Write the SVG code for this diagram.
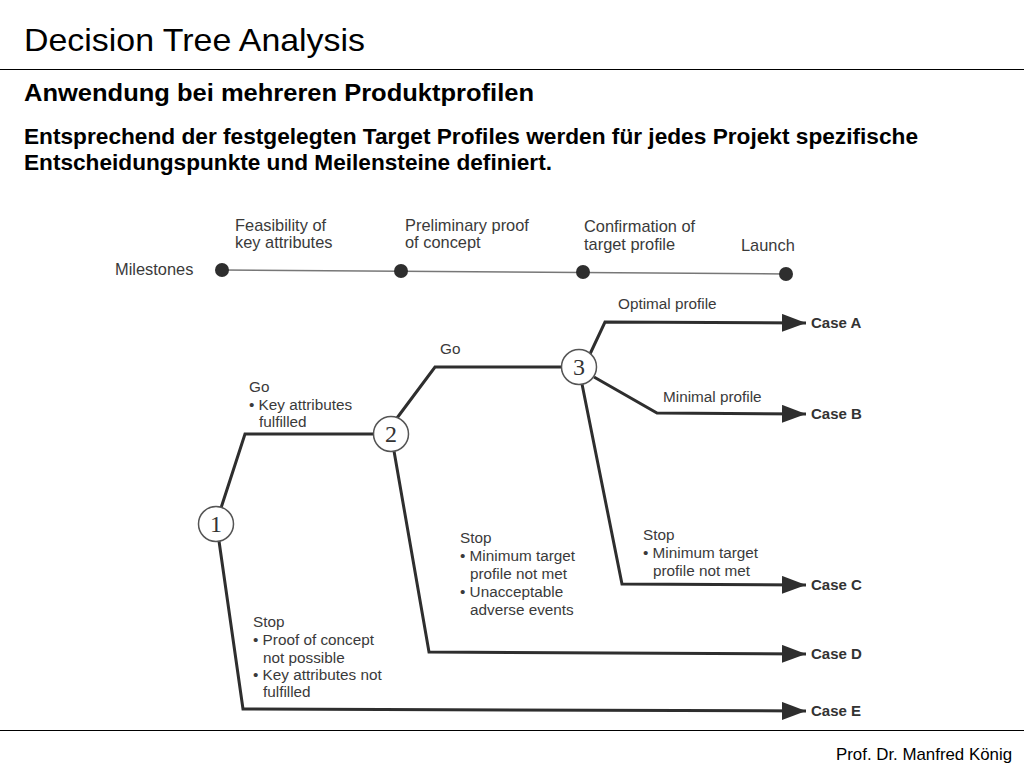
<svg xmlns="http://www.w3.org/2000/svg" width="1024" height="768" viewBox="0 0 1024 768">
<style>
.h{font-family:"Liberation Sans",Arial,sans-serif;fill:#000}
.t{font-family:"Liberation Sans",Arial,sans-serif;font-size:15.3px;fill:#3a3a3a}
.m{font-family:"Liberation Sans",Arial,sans-serif;font-size:16.4px;fill:#3a3a3a}
.c{font-family:"Liberation Sans",Arial,sans-serif;font-size:15px;font-weight:bold;fill:#333}
.n{font-family:"Liberation Serif","Times New Roman",serif;font-size:24px;fill:#333;text-anchor:middle}
.e{fill:none;stroke:#2e2e2e;stroke-width:3;stroke-linejoin:miter}
.ml{stroke:#777;stroke-width:1.5}
.dot{fill:#2e2e2e}
.node{fill:#fff;stroke:#555;stroke-width:1.5}
</style>
<defs>
<marker id="arr" viewBox="0 0 24 18" refX="24" refY="9" markerWidth="8" markerHeight="6" markerUnits="strokeWidth" orient="auto">
<path d="M0,0 L24,9 L0,18 z" fill="#2e2e2e"/>
</marker>
</defs>
<rect width="1024" height="768" fill="#fff"/>
<text class="h" x="24" y="51" font-size="32" textLength="341" lengthAdjust="spacingAndGlyphs">Decision Tree Analysis</text>
<line x1="0" y1="69.5" x2="1024" y2="69.5" stroke="#000" stroke-width="1.2"/>
<text class="h" x="24" y="101" font-size="23" font-weight="bold" textLength="510" lengthAdjust="spacingAndGlyphs">Anwendung bei mehreren Produktprofilen</text>
<text class="h" x="24" y="144" font-size="22" font-weight="bold" textLength="894" lengthAdjust="spacingAndGlyphs">Entsprechend der festgelegten Target Profiles werden für jedes Projekt spezifische</text>
<text class="h" x="24" y="170" font-size="22" font-weight="bold" textLength="528" lengthAdjust="spacingAndGlyphs">Entscheidungspunkte und Meilensteine definiert.</text>
<line x1="0" y1="730.5" x2="1024" y2="730.5" stroke="#000" stroke-width="1.2"/>
<text class="h" x="1012" y="760" font-size="17" text-anchor="end" textLength="176" lengthAdjust="spacingAndGlyphs">Prof. Dr. Manfred König</text>

<g id="milestones">
<line class="ml" x1="222" y1="270" x2="786" y2="274"/>
<circle class="dot" cx="222" cy="270" r="7"/>
<circle class="dot" cx="401" cy="271" r="7"/>
<circle class="dot" cx="583" cy="272" r="7"/>
<circle class="dot" cx="786" cy="274" r="7"/>
<text class="m" x="115" y="275">Milestones</text>
<text class="m" x="235" y="231">Feasibility of</text>
<text class="m" x="235" y="248">key attributes</text>
<text class="m" x="405" y="231">Preliminary proof</text>
<text class="m" x="405" y="248">of concept</text>
<text class="m" x="584" y="232">Confirmation of</text>
<text class="m" x="584" y="250">target profile</text>
<text class="m" x="741" y="251">Launch</text>
</g>

<g id="connectors">
<polyline class="e" points="221,508 245,434 374,434"/>
<polyline class="e" points="397,418 435,367 562,367"/>
<polyline class="e" marker-end="url(#arr)" points="590,354 605,322 806,323"/>
<polyline class="e" marker-end="url(#arr)" points="594,377 657,413 806,414"/>
<polyline class="e" marker-end="url(#arr)" points="582,384 622,584 806,585"/>
<polyline class="e" marker-end="url(#arr)" points="394,451 429,652 806,654"/>
<polyline class="e" marker-end="url(#arr)" points="219,541 243,709 806,711"/>
</g>

<g id="node1"><circle class="node" cx="216" cy="524" r="17.5"/><text class="n" x="216" y="532">1</text></g>
<g id="node2"><circle class="node" cx="391" cy="434" r="17.5"/><text class="n" x="391" y="442">2</text></g>
<g id="node3"><circle class="node" cx="579" cy="367" r="17.5"/><text class="n" x="579" y="375">3</text></g>

<g id="labels">
<text class="t" x="249" y="392">Go</text>
<text class="t" x="249" y="410">• Key attributes</text>
<text class="t" x="259" y="427">fulfilled</text>
<text class="t" x="440" y="354">Go</text>
<text class="t" x="618" y="309">Optimal profile</text>
<text class="t" x="663" y="402">Minimal profile</text>
<text class="t" x="643" y="540">Stop</text>
<text class="t" x="643" y="558">• Minimum target</text>
<text class="t" x="653" y="576">profile not met</text>
<text class="t" x="460" y="543">Stop</text>
<text class="t" x="460" y="561">• Minimum target</text>
<text class="t" x="470" y="579">profile not met</text>
<text class="t" x="460" y="597">• Unacceptable</text>
<text class="t" x="470" y="615">adverse events</text>
<text class="t" x="253" y="627">Stop</text>
<text class="t" x="253" y="645">• Proof of concept</text>
<text class="t" x="263" y="663">not possible</text>
<text class="t" x="253" y="680">• Key attributes not</text>
<text class="t" x="263" y="697">fulfilled</text>
</g>

<g id="cases">
<text class="c" x="811" y="328">Case A</text>
<text class="c" x="811" y="419">Case B</text>
<text class="c" x="811" y="590">Case C</text>
<text class="c" x="811" y="659">Case D</text>
<text class="c" x="811" y="716">Case E</text>
</g>
</svg>
